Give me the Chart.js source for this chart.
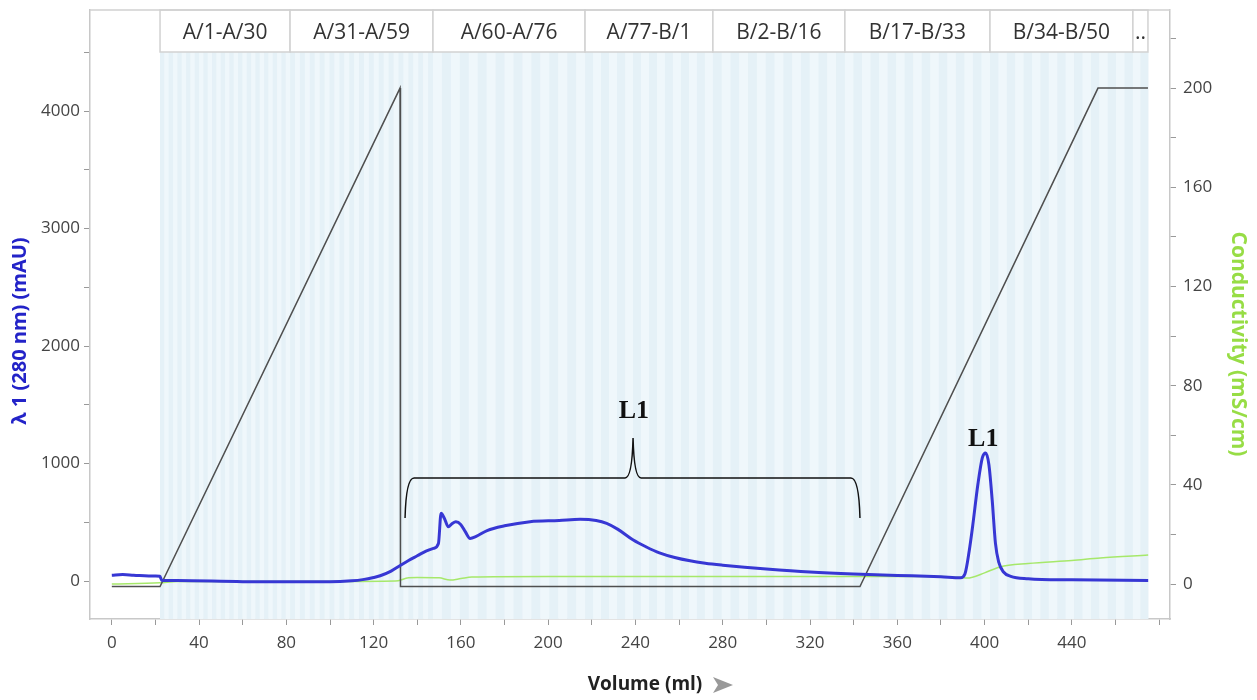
<!DOCTYPE html>
<html>
<head>
<meta charset="utf-8">
<script src="https://cdn.jsdelivr.net/npm/chart.js@4.4.1/dist/chart.umd.min.js"></script>
<style>
  body { margin: 0; background: #fff; }
  canvas { display: block; }
</style>
</head>
<body>
<canvas id="chrom" width="1257" height="700"></canvas>
<script>
// UV 280 nm trace (mAU), left axis
const volUV = [0, 5, 10, 20, 22, 23, 30, 60, 100, 110, 115, 120, 123, 128, 132, 136, 140, 144, 147.4, 149.7, 150.9, 152.5, 154.2, 156, 157.7, 160, 162, 164.2, 167, 172, 180, 191.7, 205, 214.6, 222, 226.8, 232, 239, 245, 251, 258, 265, 272, 280, 290, 300, 320, 340, 360, 380, 389, 391, 393, 394.5, 397, 399, 400.5, 402, 403.5, 405, 406.5, 408.7, 412, 420, 440, 475];
const uv = [50, 55, 50, 42, 40, 5, 4, -5, -6, 2, 12, 30, 45, 85, 130, 175, 215, 255, 278, 320, 576, 530, 462, 490, 505, 480, 420, 363, 380, 430, 470, 505, 515, 525, 515, 491, 440, 349, 290, 240, 200, 172, 152, 135, 117, 102, 77, 60, 48, 36, 28, 60, 260, 460, 830, 1050, 1090, 990, 690, 320, 160, 77, 40, 20, 10, 5];

// Concentration B gradient, drawn against the right axis
const volConcB = [0, 22.1, 132.1, 132.3, 342.9, 452.0, 474.9];
const concB = [-1, -1, 200, -1, -1, 200, 200];

// Conductivity (mS/cm), right axis
const volCond = [0, 22, 30, 100, 130, 136, 140, 150, 155, 160, 165, 200, 300, 380, 389, 392, 400, 407, 420, 440, 453, 475];
const cond = [0, 0.5, 1, 1, 1.2, 2.5, 2.6, 2.5, 1.6, 2.2, 2.8, 3, 3, 3, 2.6, 2.4, 4.5, 6.9, 8.3, 9.5, 10.5, 11.7];

// fraction collector bar
const fracLabels = ['A/1-A/30', 'A/31-A/59', 'A/60-A/76', 'A/77-B/1', 'B/2-B/16', 'B/17-B/33', 'B/34-B/50', '..'];
const fracStart = [22.1, 81.7, 147.2, 216.9, 275.5, 336.0, 402.5, 468.0];
const fracEnd = [81.7, 147.2, 216.9, 275.5, 336.0, 402.5, 468.0, 474.9];
const fracCount = [30, 29, 17, 16, 15, 17, 17, 2];

// tick values
const xTicks = [0, 20, 40, 60, 80, 100, 120, 140, 160, 180, 200, 220, 240, 260, 280, 300, 320, 340, 360, 380, 400, 420, 440, 460, 480];
const uvTicks = [0, 500, 1000, 1500, 2000, 2500, 3000, 3500, 4000, 4500];
const condTicks = [0, 20, 40, 60, 80, 100, 120, 140, 160, 180, 200, 220];

// L1 annotations
const bracketX = [134.4, 238.9, 342.9];   // left end, tip, right end (ml)
const bracketY = [536, 877, 1217];        // end, bar, tip (mAU)
const peakLabelX = [239.3, 399.4];
const peakLabelY = [1447, 1208];

const tickFont = { family: '"Open Sans", sans-serif', size: 17 };
const tickColor = '#444';

function toXY(xs, ys) {
  return xs.map(function (x, i) { return { x: x, y: ys[i] }; });
}

const fractionBar = {
  id: 'fractionBar',
  beforeDatasetsDraw(chart) {
    const ctx = chart.ctx;
    const xs = chart.scales.x;
    const area = chart.chartArea;
    const barTop = area.top, barBottom = 52;
    ctx.save();
    // shaded collection region with one stripe per fraction
    let k = 0;
    fracStart.forEach(function (s, i) {
      const step = (fracEnd[i] - s) / fracCount[i];
      for (let j = 0; j < fracCount[i]; j++) {
        const a = xs.getPixelForValue(s + j * step);
        const b = xs.getPixelForValue(s + (j + 1) * step);
        ctx.fillStyle = (k % 2 === 0) ? '#e5f1f7' : '#eff7fb';
        ctx.fillRect(a, barBottom, b - a + 0.5, area.bottom - barBottom);
        k++;
      }
    });
    // label boxes
    ctx.font = '21px "Open Sans", sans-serif';
    ctx.textAlign = 'center';
    ctx.textBaseline = 'middle';
    fracLabels.forEach(function (lab, i) {
      const a = xs.getPixelForValue(fracStart[i]);
      const b = xs.getPixelForValue(fracEnd[i]);
      ctx.fillStyle = '#fff';
      ctx.fillRect(a, barTop, b - a, barBottom - barTop);
      ctx.strokeStyle = '#d2d2d2';
      ctx.lineWidth = 1.5;
      ctx.strokeRect(a, barTop, b - a, barBottom - barTop);
      ctx.fillStyle = '#333';
      ctx.fillText(lab, (a + b) / 2, 33);
    });
    // top frame line
    ctx.strokeStyle = '#d0d0d0';
    ctx.lineWidth = 1.5;
    ctx.beginPath();
    ctx.moveTo(area.left, area.top);
    ctx.lineTo(area.right, area.top);
    ctx.stroke();
    ctx.restore();
  },
  afterDraw(chart) {
    const ctx = chart.ctx;
    const xs = chart.scales.x, ys = chart.scales.y;
    ctx.save();
    // bracket
    const x1 = xs.getPixelForValue(bracketX[0]);
    const xm = xs.getPixelForValue(bracketX[1]);
    const x2 = xs.getPixelForValue(bracketX[2]);
    const yEnd = ys.getPixelForValue(bracketY[0]);
    const yBar = ys.getPixelForValue(bracketY[1]);
    const yTip = ys.getPixelForValue(bracketY[2]);
    ctx.strokeStyle = '#111';
    ctx.lineWidth = 1.5;
    ctx.beginPath();
    ctx.moveTo(x1, yEnd);
    ctx.quadraticCurveTo(x1 + 1, yBar, x1 + 9, yBar);
    ctx.lineTo(xm - 8, yBar);
    ctx.quadraticCurveTo(xm - 1, yBar, xm, yTip);
    ctx.quadraticCurveTo(xm + 1, yBar, xm + 8, yBar);
    ctx.lineTo(x2 - 9, yBar);
    ctx.quadraticCurveTo(x2 - 1, yBar, x2, yEnd);
    ctx.stroke();
    // L1 labels
    ctx.fillStyle = '#111';
    ctx.font = 'bold 26px "Liberation Serif", serif';
    ctx.textAlign = 'center';
    ctx.textBaseline = 'middle';
    peakLabelX.forEach(function (v, i) {
      ctx.fillText('L1', xs.getPixelForValue(v), ys.getPixelForValue(peakLabelY[i]));
    });
    // axis titles
    ctx.font = 'bold 20px "Open Sans", sans-serif';
    ctx.fillStyle = '#2323c8';
    ctx.save();
    ctx.translate(20, 331);
    ctx.rotate(-Math.PI / 2);
    ctx.fillText('\u03bb 1 (280 nm) (mAU)', 0, 0);
    ctx.restore();
    ctx.fillStyle = '#97dd45';
    ctx.font = 'bold 21px "Open Sans", sans-serif';
    ctx.save();
    ctx.translate(1238, 344);
    ctx.rotate(Math.PI / 2);
    ctx.fillText('Conductivity (mS/cm)', 0, 0);
    ctx.restore();
    ctx.font = 'bold 19px "Open Sans", sans-serif';
    ctx.fillStyle = '#222';
    ctx.fillText('Volume (ml)', 645, 685);
    ctx.fillStyle = '#999';
    ctx.beginPath();
    ctx.moveTo(713, 677);
    ctx.lineTo(733, 685);
    ctx.lineTo(713, 693);
    ctx.lineTo(718, 685);
    ctx.closePath();
    ctx.fill();
    ctx.restore();
  }
};

function fixedTicks(values) {
  return function (axis) {
    axis.ticks = values.map(function (v) { return { value: v }; });
  };
}

function fixWidth(w) {
  return function (s) { s.width = w; s.paddingTop = 0; s.paddingBottom = 0; };
}

new Chart(document.getElementById('chrom'), {
  type: 'line',
  data: {
    datasets: [
      {
        label: 'UV 280 nm',
        data: toXY(volUV, uv),
        yAxisID: 'y',
        borderColor: '#3737d4',
        borderWidth: 3,
        pointRadius: 0,
        cubicInterpolationMode: 'monotone',
        order: 0
      },
      {
        label: 'Conc B',
        data: toXY(volConcB, concB),
        yAxisID: 'y2',
        borderColor: '#4f4f4f',
        borderWidth: 1.5,
        pointRadius: 0,
        tension: 0,
        order: 1
      },
      {
        label: 'Conductivity',
        data: toXY(volCond, cond),
        yAxisID: 'y2',
        borderColor: '#a6e86a',
        borderWidth: 1.5,
        pointRadius: 0,
        cubicInterpolationMode: 'monotone',
        order: 2
      }
    ]
  },
  options: {
    responsive: false,
    animation: false,
    layout: { padding: { top: 10, left: 0, right: 0, bottom: 0 } },
    plugins: { legend: { display: false }, tooltip: { enabled: false } },
    scales: {
      x: {
        type: 'linear',
        min: -10,
        max: 485,
        afterBuildTicks: fixedTicks(xTicks),
        afterFit: function (s) { s.height = 81; s.paddingLeft = 0; s.paddingRight = 0; },
        ticks: {
          autoSkip: false,
          maxRotation: 0,
          padding: 8,
          font: tickFont,
          color: tickColor,
          callback: function (v) { return (v % 40 === 0 && v < 480) ? String(v) : ''; }
        },
        grid: { drawOnChartArea: false, tickLength: 6, color: '#999' },
        border: { color: '#c8c8c8', width: 1.5 }
      },
      y: {
        position: 'left',
        min: -323,
        max: 4860,
        afterBuildTicks: fixedTicks(uvTicks),
        afterFit: fixWidth(90),
        ticks: {
          autoSkip: false,
          padding: 4,
          font: tickFont,
          color: tickColor,
          callback: function (v) { return (v % 1000 === 0) ? String(v) : ''; }
        },
        grid: { drawOnChartArea: false, tickLength: 6, color: '#999' },
        border: { color: '#c8c8c8', width: 1.5 }
      },
      y2: {
        position: 'right',
        min: -14.1,
        max: 231.5,
        afterBuildTicks: fixedTicks(condTicks),
        afterFit: fixWidth(87),
        ticks: {
          autoSkip: false,
          padding: 7,
          font: tickFont,
          color: tickColor,
          callback: function (v) { return (v % 40 === 0 && v <= 200) ? String(v) : ''; }
        },
        grid: { drawOnChartArea: false, tickLength: 6, color: '#999' },
        border: { color: '#c8c8c8', width: 1.5 }
      }
    }
  },
  plugins: [fractionBar]
});
</script>
</body>
</html>
